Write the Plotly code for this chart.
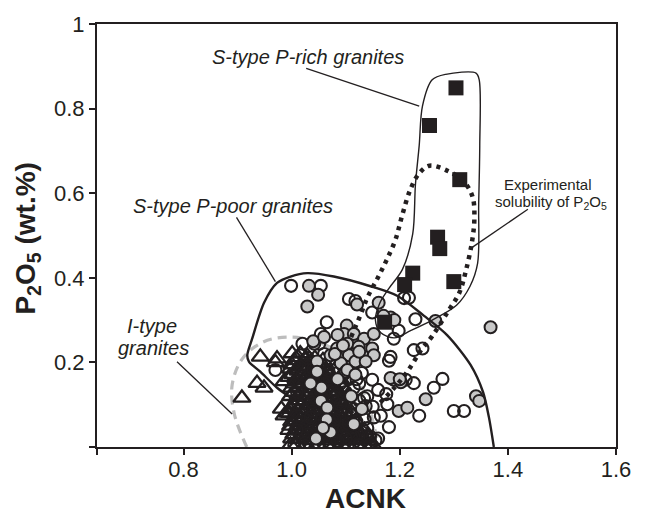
import plotly.graph_objects as go

# ---------------- data ----------------
# S-type P-rich granites (black squares)
sq_x = [1.304, 1.255, 1.311, 1.270, 1.274, 1.224, 1.209, 1.300, 1.172]
sq_y = [0.849, 0.760, 0.632, 0.496, 0.469, 0.411, 0.384, 0.391, 0.295]

# grey filled circles
gc_x = [1.032, 1.049, 1.029, 1.102, 1.097, 1.042, 1.084, 1.072, 1.121, 1.161,
        1.183, 1.115, 1.134, 1.152, 1.103, 1.124, 1.149, 1.106, 1.134, 1.152,
        1.266, 1.368, 1.341, 1.347, 1.202, 1.198, 1.214, 1.248, 1.183, 1.200,
        1.190, 1.170, 1.047, 1.047, 1.054, 1.066, 1.072, 1.091, 1.100, 1.118,
        1.137, 1.103, 1.118, 1.115, 1.080, 1.095, 1.125, 1.055, 1.065, 1.110,
        1.130, 1.040, 1.060, 1.085, 1.035, 1.058, 1.085, 1.045]
gc_y = [0.381, 0.360, 0.332, 0.287, 0.267, 0.244, 0.233, 0.217, 0.337, 0.341,
        0.306, 0.267, 0.256, 0.267, 0.244, 0.237, 0.233, 0.217, 0.213, 0.217,
        0.298, 0.283, 0.120, 0.109, 0.153, 0.085, 0.093, 0.113, 0.163, 0.160,
        0.300, 0.310, 0.202, 0.178, 0.109, 0.093, 0.035, 0.198, 0.178, 0.202,
        0.202, 0.182, 0.171, 0.054, 0.220, 0.240, 0.225, 0.140, 0.065, 0.120,
        0.090, 0.250, 0.260, 0.265, 0.150, 0.045, 0.160, 0.020]

# open circles
oc_x = [0.999, 1.054, 1.106, 1.065, 1.054, 1.051, 1.020, 0.970, 1.118, 1.149,
        1.217, 1.229, 1.198, 1.189, 1.226, 1.242, 1.183, 1.180, 1.189, 1.211,
        1.226, 1.263, 1.279, 1.177, 1.236, 1.149, 1.165, 1.180, 1.155, 1.134,
        1.137, 1.152, 1.300, 1.319, 1.160, 1.175, 1.208,
        1.030, 1.060, 1.075, 1.020, 1.045, 1.070, 1.090, 1.010, 1.035, 1.060,
        1.085, 1.100, 1.115, 1.120, 1.130, 1.100, 1.115, 1.125, 1.040, 1.065,
        1.090, 1.110, 1.120, 1.135, 1.140, 1.130, 1.115, 1.145, 1.160, 1.020,
        1.050, 1.075, 1.095, 1.030, 1.060, 1.085, 1.005, 1.025, 1.050, 1.070,
        1.015, 1.040, 1.068, 1.095, 1.108, 1.125, 1.140, 1.150, 1.105, 1.012,
        1.038, 1.078, 1.100, 1.125, 1.145, 1.105, 1.090, 1.010, 1.035, 1.080]
oc_y = [0.381, 0.381, 0.350, 0.295, 0.267, 0.244, 0.244, 0.182, 0.345, 0.318,
        0.353, 0.302, 0.275, 0.256, 0.229, 0.233, 0.213, 0.204, 0.159, 0.159,
        0.151, 0.140, 0.161, 0.101, 0.074, 0.159, 0.074, 0.047, 0.016, 0.116,
        0.097, 0.070, 0.085, 0.085, 0.135, 0.125, 0.352,
        0.210, 0.220, 0.200, 0.170, 0.165, 0.160, 0.150, 0.130, 0.130, 0.125,
        0.125, 0.130, 0.140, 0.160, 0.175, 0.105, 0.090, 0.110, 0.085, 0.090,
        0.085, 0.075, 0.060, 0.065, 0.045, 0.035, 0.025, 0.025, 0.020, 0.060,
        0.050, 0.045, 0.040, 0.030, 0.025, 0.015, 0.005, 0.010, 0.008, 0.010,
        0.190, 0.185, 0.180, 0.170, 0.190, 0.150, 0.120, 0.095, 0.055, 0.100,
        0.105, 0.110, 0.020, 0.005, 0.006, 0.160, 0.100, 0.040, 0.070, 0.065]

# I-type granites (open triangles)
tr_x = [0.908, 0.936, 0.949, 0.942, 0.973, 0.986, 0.992, 0.986, 0.981, 1.001,
        1.016, 1.029, 0.970,
        1.005, 1.020, 1.035, 1.050, 1.060,
        0.998, 1.012, 1.025, 1.040, 1.055, 1.070,
        0.995, 1.008, 1.020, 1.033, 1.048, 1.062, 1.075,
        1.000, 1.015, 1.028, 1.042, 1.056, 1.068, 1.082,
        0.998, 1.010, 1.024, 1.037, 1.050, 1.064, 1.078, 1.090,
        1.003, 1.017, 1.030, 1.044, 1.058, 1.072, 1.085, 1.098,
        0.996, 1.008, 1.021, 1.035, 1.048, 1.062, 1.075, 1.090, 1.105,
        1.000, 1.013, 1.027, 1.040, 1.054, 1.067, 1.080, 1.095, 1.110,
        0.995, 1.007, 1.020, 1.033, 1.046, 1.060, 1.073, 1.087, 1.100, 1.115, 1.128,
        1.000, 1.012, 1.025, 1.038, 1.052, 1.065, 1.078, 1.092, 1.106, 1.120, 1.133, 1.145,
        1.012, 1.027, 1.043, 1.058,
        1.000, 1.015, 1.030, 1.045, 1.062, 1.078,
        1.002, 1.017, 1.032, 1.047, 1.062, 1.078, 1.090,
        1.005, 1.020, 1.035, 1.050, 1.064, 1.080, 1.095,
        1.005, 1.020, 1.034, 1.048, 1.062, 1.075, 1.090, 1.103,
        1.008, 1.022, 1.036, 1.050, 1.065, 1.080, 1.094, 1.108,
        1.000, 1.012, 1.026, 1.040, 1.055, 1.068, 1.082, 1.097, 1.112,
        1.005, 1.018, 1.031, 1.045, 1.058, 1.072, 1.086, 1.100, 1.118,
        0.998, 1.010, 1.024, 1.038, 1.051, 1.065, 1.079, 1.093, 1.107, 1.122, 1.135,
        1.004, 1.017, 1.030, 1.043, 1.057, 1.070, 1.084, 1.098, 1.112, 1.126, 1.140,
        0.998, 1.010, 1.024, 1.037, 1.050, 1.064, 1.078, 1.092, 1.106, 1.120, 1.135, 1.150]
tr_y = [0.116, 0.151, 0.140, 0.213, 0.209, 0.155, 0.081, 0.074, 0.090, 0.221,
        0.221, 0.215, 0.200,
        0.205, 0.200, 0.200, 0.195, 0.190,
        0.185, 0.180, 0.178, 0.182, 0.175, 0.170,
        0.165, 0.160, 0.158, 0.162, 0.155, 0.158, 0.150,
        0.140, 0.142, 0.138, 0.140, 0.135, 0.140, 0.130,
        0.120, 0.118, 0.122, 0.115, 0.120, 0.112, 0.118, 0.110,
        0.100, 0.098, 0.102, 0.095, 0.100, 0.094, 0.098, 0.090,
        0.080, 0.078, 0.082, 0.076, 0.080, 0.074, 0.078, 0.072, 0.070,
        0.060, 0.058, 0.062, 0.055, 0.060, 0.056, 0.058, 0.054, 0.050,
        0.040, 0.038, 0.042, 0.036, 0.040, 0.035, 0.040, 0.036, 0.038, 0.034, 0.030,
        0.020, 0.018, 0.022, 0.016, 0.020, 0.015, 0.020, 0.016, 0.018, 0.015, 0.018, 0.015,
        0.212, 0.208, 0.210, 0.205,
        0.195, 0.190, 0.190, 0.188, 0.183, 0.180,
        0.172, 0.168, 0.170, 0.166, 0.168, 0.162, 0.160,
        0.150, 0.148, 0.150, 0.145, 0.148, 0.142, 0.140,
        0.130, 0.130, 0.128, 0.130, 0.125, 0.128, 0.122, 0.120,
        0.110, 0.108, 0.110, 0.105, 0.108, 0.105, 0.102, 0.100,
        0.090, 0.088, 0.090, 0.086, 0.090, 0.085, 0.088, 0.082, 0.080,
        0.070, 0.068, 0.070, 0.066, 0.070, 0.065, 0.068, 0.064, 0.062,
        0.050, 0.048, 0.050, 0.046, 0.050, 0.046, 0.050, 0.046, 0.045, 0.042, 0.040,
        0.030, 0.028, 0.030, 0.026, 0.030, 0.026, 0.028, 0.026, 0.028, 0.024, 0.026,
        0.005, 0.006, 0.004, 0.006, 0.004, 0.006, 0.004, 0.006, 0.004, 0.005, 0.004, 0.005]

# field outlines
prich_x = [1.260, 1.285, 1.341, 1.347, 1.348, 1.346, 1.344, 1.330, 1.305, 1.260,
           1.220, 1.190, 1.165, 1.155, 1.163, 1.180, 1.205, 1.224, 1.229, 1.236,
           1.242, 1.260]
prich_y = [0.868, 0.881, 0.884, 0.868, 0.713, 0.574, 0.434, 0.380, 0.335, 0.300,
           0.275, 0.258, 0.270, 0.300, 0.340, 0.375, 0.420, 0.504, 0.620, 0.713,
           0.806, 0.868]

ppoor_x = [1.000, 0.973, 0.942, 0.921, 0.918, 0.927, 0.949, 0.973, 0.998, 1.029,
           1.078, 1.146, 1.196, 1.245, 1.288, 1.331, 1.354, 1.365, 1.374]
ppoor_y = [0.115, 0.140, 0.178, 0.202, 0.217, 0.256, 0.341, 0.388, 0.403, 0.411,
           0.403, 0.380, 0.357, 0.310, 0.264, 0.194, 0.130, 0.070, 0.000]

sol_x = [1.110, 1.128, 1.140, 1.159, 1.175, 1.192, 1.205, 1.220, 1.236, 1.255,
         1.290, 1.320, 1.335, 1.338, 1.334, 1.322, 1.310, 1.290, 1.260, 1.240,
         1.214, 1.190, 1.160]
sol_y = [0.260, 0.314, 0.353, 0.399, 0.440, 0.490, 0.550, 0.610, 0.647, 0.665,
         0.652, 0.625, 0.590, 0.540, 0.488, 0.415, 0.364, 0.322, 0.262, 0.230,
         0.178, 0.140, 0.100]

itype_x = [0.917, 0.894, 0.890, 0.909, 0.947, 0.993, 1.038, 1.084, 1.122, 1.145, 1.160]
itype_y = [0.000, 0.078, 0.147, 0.209, 0.248, 0.260, 0.252, 0.225, 0.163, 0.085, 0.008]

# leader lines: (x0, y0, x1, y1)
leaders = [(1.027, 0.895, 1.236, 0.806),
           (0.898, 0.543, 0.970, 0.391),
           (0.788, 0.2015, 0.890, 0.078),
           (1.437, 0.562, 1.334, 0.472)]

x_ticks = [0.64, 0.8, 1.0, 1.2, 1.4, 1.6]
x_labels = ["", "0.8", "1.0", "1.2", "1.4", "1.6"]
y_ticks = [0, 0.2, 0.4, 0.6, 0.8, 1.0]
y_labels = ["", "0.2", "0.4", "0.6", "0.8", "1"]

INK = "#231f20"
FONT = "Liberation Sans, Arial, sans-serif"

fig = go.Figure()

fig.add_trace(go.Scatter(x=itype_x, y=itype_y, mode="lines",
                         line=dict(color="#bdbdbd", width=3.2, dash="9px,6px", shape="spline", smoothing=1.0),
                         hoverinfo="skip", showlegend=False))

fig.add_trace(go.Scatter(x=tr_x, y=tr_y, mode="markers",
                         marker=dict(symbol="triangle-up-open", size=15, color=INK, line=dict(width=2.3, color=INK)),
                         showlegend=False))
fig.add_trace(go.Scatter(x=oc_x, y=oc_y, mode="markers",
                         marker=dict(symbol="circle-open", size=12, color=INK, line=dict(width=2.1, color=INK)),
                         showlegend=False))
fig.add_trace(go.Scatter(x=gc_x, y=gc_y, mode="markers",
                         marker=dict(symbol="circle", size=12, color="#c8c8c8", line=dict(width=2, color=INK)),
                         showlegend=False))
fig.add_trace(go.Scatter(x=sq_x, y=sq_y, mode="markers",
                         marker=dict(symbol="square", size=15, color=INK, line=dict(width=0)),
                         showlegend=False))

fig.add_trace(go.Scatter(x=ppoor_x, y=ppoor_y, mode="lines",
                         line=dict(color=INK, width=2.4, shape="spline", smoothing=0.8),
                         hoverinfo="skip", showlegend=False))
fig.add_trace(go.Scatter(x=prich_x, y=prich_y, mode="lines",
                         line=dict(color=INK, width=1.4, shape="spline", smoothing=0.9),
                         hoverinfo="skip", showlegend=False))
fig.add_trace(go.Scatter(x=sol_x, y=sol_y, mode="lines",
                         line=dict(color=INK, width=4.5, dash="4px,5px", shape="spline", smoothing=1.0),
                         hoverinfo="skip", showlegend=False))

for (x0, y0, x1, y1) in leaders:
    fig.add_shape(type="line", x0=x0, y0=y0, x1=x1, y1=y1, xref="x", yref="y",
                  line=dict(color=INK, width=1.3))

ann_font = dict(family=FONT, size=20, color=INK)
fig.add_annotation(x=1.031, y=0.922, text="<i>S-type P-rich granites</i>", showarrow=False, font=ann_font)
fig.add_annotation(x=0.892, y=0.570, text="<i>S-type P-poor granites</i>", showarrow=False, font=ann_font)
fig.add_annotation(x=0.742, y=0.287, text="<i>I-type</i>", showarrow=False, font=ann_font)
fig.add_annotation(x=0.744, y=0.233, text="<i>granites</i>", showarrow=False, font=ann_font)
small_font = dict(family=FONT, size=15, color=INK)
fig.add_annotation(x=1.475, y=0.620, text="Experimental", showarrow=False, font=small_font)
fig.add_annotation(x=1.480, y=0.578, text="solubility of P<sub>2</sub>O<sub>5</sub>", showarrow=False, font=small_font)

# axis titles
fig.add_annotation(xref="paper", yref="paper", x=0.518, y=-0.121, xanchor="center", yanchor="middle",
                   height=28, valign="middle",
                   text="<b>ACNK</b>", showarrow=False, font=dict(family=FONT, size=28, color=INK))
fig.add_annotation(xref="paper", yref="paper", x=-0.133, y=0.495, xanchor="center", yanchor="middle",
                   text="<b>P<sub>2</sub>O<sub>5</sub> (wt.%)</b>", textangle=-90,
                   showarrow=False, font=dict(family=FONT, size=28, color=INK))

axis_common = dict(showline=True, linecolor=INK, linewidth=2, mirror=True,
                   ticks="outside", ticklen=6, tickwidth=1.5, tickcolor=INK,
                   showgrid=False, zeroline=False,
                   tickfont=dict(family=FONT, size=22, color=INK))

fig.update_xaxes(range=[0.64, 1.6], tickvals=x_ticks, ticktext=x_labels,
                 ticklabelstandoff=-4, **axis_common)
fig.update_yaxes(range=[0, 1.0], tickvals=y_ticks, ticktext=y_labels, **axis_common)

fig.update_layout(width=646, height=513, margin=dict(l=97, r=30, t=17, b=66),
                  plot_bgcolor="white", paper_bgcolor="white", showlegend=False)

fig.write_html("out.html")
